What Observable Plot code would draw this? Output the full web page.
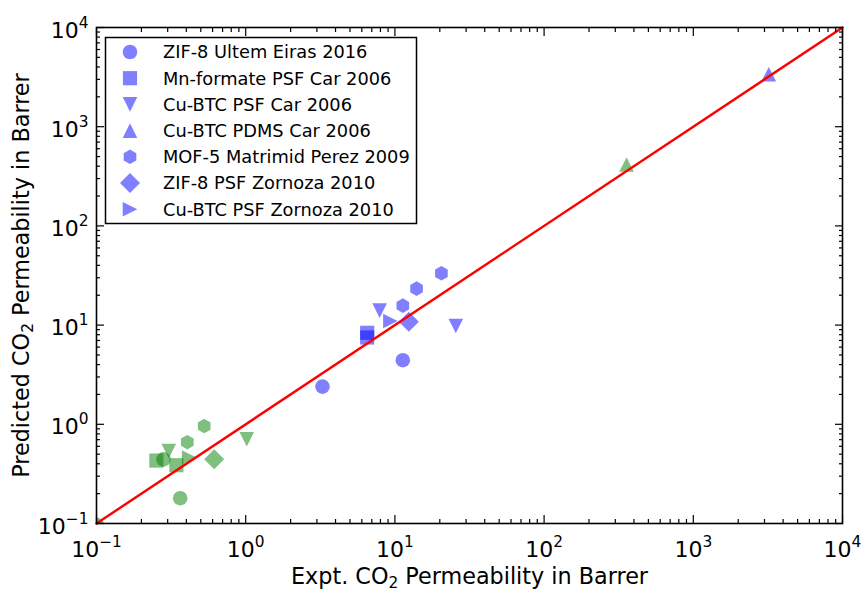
<!DOCTYPE html>
<html><head><meta charset="utf-8">
<script src="https://cdn.jsdelivr.net/npm/d3@7"></script>
<script src="https://cdn.jsdelivr.net/npm/@observablehq/plot@0.6"></script>
<style>
html,body{margin:0;padding:0;background:#fff;}
#chart svg{display:block;}
</style></head><body><div id="chart"></div>
<script>
// ---------- data ----------
const seriesNames = [
  "ZIF-8 Ultem Eiras 2016",
  "Mn-formate PSF Car 2006",
  "Cu-BTC PSF Car 2006",
  "Cu-BTC PDMS Car 2006",
  "MOF-5 Matrimid Perez 2009",
  "ZIF-8 PSF Zornoza 2010",
  "Cu-BTC PSF Zornoza 2010"
];
// each point: series index, group (A = blue, B = green), experimental and predicted permeability
const pointSeries = [0, 0, 0, 0, 0,   1, 1, 1, 1,   2, 2, 2, 2,   3, 3,   4, 4, 4, 4, 4,   5, 5,   6, 6];
const pointGroup  = ["A","A","B","B","B", "A","A","B","B", "A","A","B","B", "A","B", "A","A","A","B","B", "A","B", "A","B"];
const exptValues  = [3.27, 11.3, 0.281, 0.364, 0.1,  6.52, 6.52, 0.252, 0.343,  7.9, 25.6, 0.305, 1.017,  3206, 357,  11.3, 13.97, 20.5, 0.406, 0.527,  12.4, 0.615,  9.33, 0.418];
const predValues  = [2.40, 4.43, 0.443, 0.180, 0.097,  8.36, 7.50, 0.431, 0.387,  14.0, 9.8, 0.536, 0.708,  3383, 416,  15.7, 23.3, 33.3, 0.66, 0.96,  10.8, 0.445,  11.0, 0.462];
const majorTicks = [0.1, 1, 10, 100, 1000, 10000];
const tickLabels = ["10^\u22121", "10^0", "10^1", "10^2", "10^3", "10^4"];
const minorMultipliers = [2, 3, 4, 5, 6, 7, 8, 9];
const identityLine = [0.1, 10000];
const xLabel = "Expt. CO_2 Permeability in Barrer";
const yLabel = "Predicted CO_2 Permeability in Barrer";

// ---------- style ----------
const groupColor = {A: "#0000ff", B: "#008000"};
const FONT = "DejaVu Sans, sans-serif";
const W = 861, H = 591;
const M = {left: 96, right: 19, top: 27, bottom: 68};

// matplotlib-like marker shapes (size = pi r^2 ; h = half marker size)
const half = s => Math.sqrt(s / Math.PI);
const shapes = [
  {draw(c, s) { const h = half(s); c.moveTo(h, 0); c.arc(0, 0, h, 0, 2 * Math.PI); c.closePath(); }},
  {draw(c, s) { const h = half(s) * 0.97; c.rect(-h, -h, 2 * h, 2 * h); }},
  {draw(c, s) { const h = half(s); c.moveTo(0, h); c.lineTo(-h, -h); c.lineTo(h, -h); c.closePath(); }},
  {draw(c, s) { const h = half(s); c.moveTo(0, -h); c.lineTo(h, h); c.lineTo(-h, h); c.closePath(); }},
  {draw(c, s) { const h = half(s); for (let k = 0; k < 6; k++) { const a = (-90 + 60 * k) * Math.PI / 180; k ? c.lineTo(h * Math.cos(a), h * Math.sin(a)) : c.moveTo(h * Math.cos(a), h * Math.sin(a)); } c.closePath(); }},
  {draw(c, s) { const d = half(s) * 0.97 * Math.SQRT2; c.moveTo(0, -d); c.lineTo(d, 0); c.lineTo(0, d); c.lineTo(-d, 0); c.closePath(); }},
  {draw(c, s) { const h = half(s); c.moveTo(h, 0); c.lineTo(-h, h); c.lineTo(-h, -h); c.closePath(); }}
];
const R = 7.3;

const idx = d3.range(exptValues.length);
const minorTicks = majorTicks.slice(0, -1).flatMap(t => minorMultipliers.map(m => t * m));

const dotMarks = [];
seriesNames.forEach((name, s) => {
  ["A", "B"].forEach(g => {
    dotMarks.push(Plot.dot(idx.filter(i => pointSeries[i] === s && pointGroup[i] === g), {
      x: i => exptValues[i], y: i => predValues[i],
      symbol: shapes[s], r: R, fill: groupColor[g], fillOpacity: 0.5, stroke: "none", clip: true
    }));
  });
});

const fmt = d => tickLabels[majorTicks.indexOf(d)];
const tickAxes = [];
for (const anchor of ["bottom", "top"]) {
  tickAxes.push(Plot.axisX(majorTicks, {anchor, tickSize: -8, tickFormat: () => "", label: null, strokeWidth: 1.2}));
  tickAxes.push(Plot.axisX(minorTicks, {anchor, tickSize: -4, tickFormat: () => "", label: null, strokeWidth: 1.2}));
}
for (const anchor of ["left", "right"]) {
  tickAxes.push(Plot.axisY(majorTicks, {anchor, tickSize: -8, tickFormat: () => "", label: null, strokeWidth: 1.2}));
  tickAxes.push(Plot.axisY(minorTicks, {anchor, tickSize: -4, tickFormat: () => "", label: null, strokeWidth: 1.2}));
}

const chart = Plot.plot({
  width: W, height: H,
  marginLeft: M.left, marginRight: M.right, marginTop: M.top, marginBottom: M.bottom,
  style: {fontFamily: FONT, background: "white", color: "black"},
  x: {type: "log", domain: [0.1, 10000]},
  y: {type: "log", domain: [0.1, 10000]},
  marks: [
    ...dotMarks,
    Plot.line(identityLine, {x: d => d, y: d => d, stroke: "#ff0000", strokeWidth: 2.4}),
    ...tickAxes,
    Plot.axisX(majorTicks, {anchor: "bottom", tickSize: 0, tickPadding: 18, tickFormat: fmt, fontSize: 22,
      label: xLabel, labelAnchor: "center", labelOffset: 60, labelArrow: "none"}),
    Plot.axisY(majorTicks, {anchor: "left", tickSize: 0, tickPadding: 8, tickFormat: fmt, fontSize: 22,
      label: yLabel, labelAnchor: "center", labelOffset: 83, labelArrow: "none"}),
    Plot.frame({stroke: "black", strokeWidth: 1.6})
  ]
});
document.getElementById("chart").appendChild(chart);

// ---------- post-processing: superscripts / subscripts ----------
const svg = d3.select(chart);
svg.selectAll('[aria-label="x-axis tick label"] text, [aria-label="y-axis tick label"] text').each(function () {
  const t = this.textContent;
  if (!t || t.indexOf("^") < 0) return;
  const [base, exp] = t.split("^");
  const isY = this.closest('[aria-label="y-axis tick label"]') !== null;
  this.textContent = "";
  const sel = d3.select(this);
  sel.append("tspan").attr("dy", isY ? 3 : 0).text(base);
  sel.append("tspan").attr("dy", -10).attr("font-size", 15.4).text(exp);
});
svg.selectAll('[aria-label="x-axis label"] text, [aria-label="y-axis label"] text').each(function () {
  const isX = this.closest('[aria-label="x-axis label"]') !== null;
  const full = isX ? xLabel : yLabel;
  const [pre, post] = full.split("_2");
  this.textContent = "";
  const sel = d3.select(this).attr("font-size", 22.3);
  sel.append("tspan").text(pre);
  sel.append("tspan").attr("dy", 4).attr("font-size", 15.4).text("2");
  sel.append("tspan").attr("dy", -4).text(post);
});

// ---------- legend ----------
const lg = svg.append("g").attr("font-family", FONT).attr("font-size", 17.8).attr("text-anchor", "start");
lg.append("rect").attr("x", 105.5).attr("y", 37.5).attr("width", 311).attr("height", 186)
  .attr("fill", "white").attr("stroke", "black").attr("stroke-width", 1.5);
seriesNames.forEach((name, s) => {
  const cy = 52 + 26.2 * s;
  const p = d3.path();
  shapes[s].draw(p, Math.PI * R * R);
  lg.append("path").attr("d", p.toString()).attr("transform", `translate(130,${cy})`)
    .attr("fill", groupColor.A).attr("fill-opacity", 0.5);
  lg.append("text").attr("x", 163).attr("y", cy).attr("dy", "0.36em").attr("text-anchor", "start").text(name);
});
</script></body></html>
